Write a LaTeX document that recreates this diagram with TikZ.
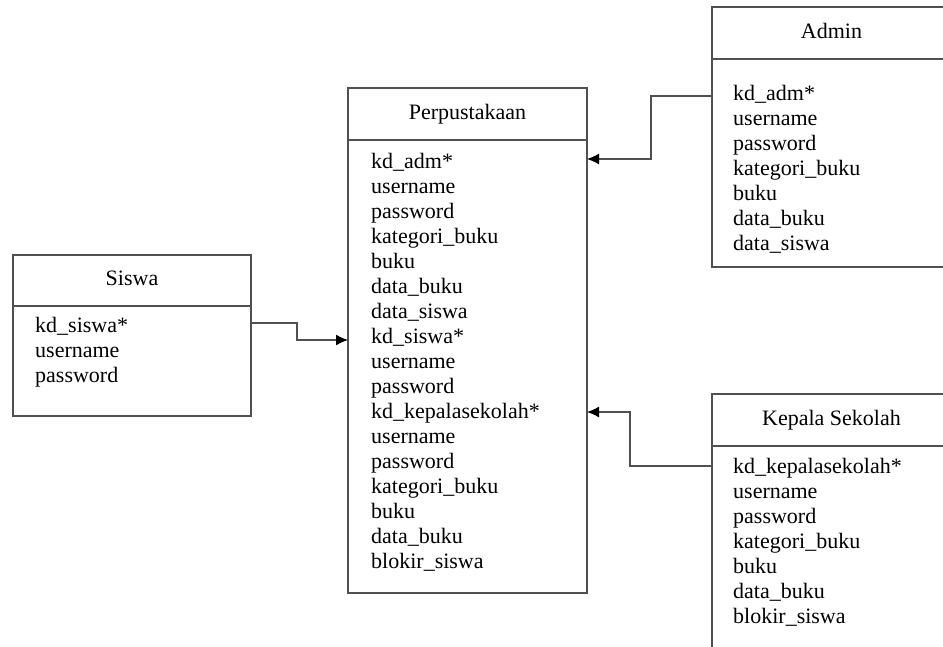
\documentclass[tikz,border=0pt]{standalone}
\usepackage{fontspec}
\setmainfont{Liberation Serif}
\usepackage{tikz}
\usetikzlibrary{arrows.meta,calc,positioning}
\definecolor{linegray}{RGB}{80,80,80}
\tikzset{
  enthead/.style={draw=linegray, line width=1.3pt, anchor=north west, minimum width=239pt, minimum height=52pt, inner sep=0pt, outer sep=0pt, text height=15pt, text depth=5pt, font=\fontsize{22}{25}\selectfont},
  entbody/.style={draw=linegray, line width=1.3pt, anchor=north west, minimum width=239pt, inner sep=0pt, outer sep=0pt},
  attrlist/.style={align=left, inner sep=0pt, anchor=north west, font=\fontsize{22}{25}\selectfont},
  relasi/.style={draw=linegray, line width=1.3pt, -{Latex[length=12pt,width=11pt,black]}}
}
\begin{document}
\begin{tikzpicture}[x=1pt,y=-1pt]
\useasboundingbox (0,0) rectangle (943,646);
\clip (0,0) rectangle (943,646);
\node[enthead, minimum width=238pt, minimum height=51pt] (siswaH) at (13,255) {Siswa};
\node[entbody, minimum width=238pt, minimum height=110pt] (siswaB) at (siswaH.south west) {};
\node[attrlist] (siswaA) at ($(siswaB.north west)+(22,11)$) {kd\_siswa*\\username\\password};
\node[enthead] (perpH) at (348,88) {Perpustakaan};
\node[entbody, minimum height=453pt] (perpB) at (perpH.south west) {};
\node[attrlist] (perpA) at ($(perpB.north west)+(23,13)$) {kd\_adm*\\username\\password\\kategori\_buku\\buku\\data\_buku\\data\_siswa\\kd\_siswa*\\username\\password\\kd\_kepalasekolah*\\username\\password\\kategori\_buku\\buku\\data\_buku\\blokir\_siswa};
\node[enthead] (adminH) at (712,7) {Admin};
\node[entbody, minimum height=208pt] (adminB) at (adminH.south west) {};
\node[attrlist] (adminA) at ($(adminB.north west)+(21,26)$) {kd\_adm*\\username\\password\\kategori\_buku\\buku\\data\_buku\\data\_siswa};
\node[enthead] (kepsekH) at (712,394) {Kepala Sekolah};
\node[entbody, minimum height=260pt] (kepsekB) at (kepsekH.south west) {};
\node[attrlist] (kepsekA) at ($(kepsekB.north west)+(21,12)$) {kd\_kepalasekolah*\\username\\password\\kategori\_buku\\buku\\data\_buku\\blokir\_siswa};
\draw[relasi] (siswaB.north east) ++(0,17) -- ++(46,0) |- ([yshift=-200pt]perpB.north west);
\draw[relasi] (adminB.north west) ++(0,37) -- ++(-61,0) |- ([yshift=-19pt]perpB.north east);
\draw[relasi] (kepsekB.north west) ++(0,20) -- ++(-82,0) |- ([yshift=-272pt]perpB.north east);
\end{tikzpicture}
\end{document}
